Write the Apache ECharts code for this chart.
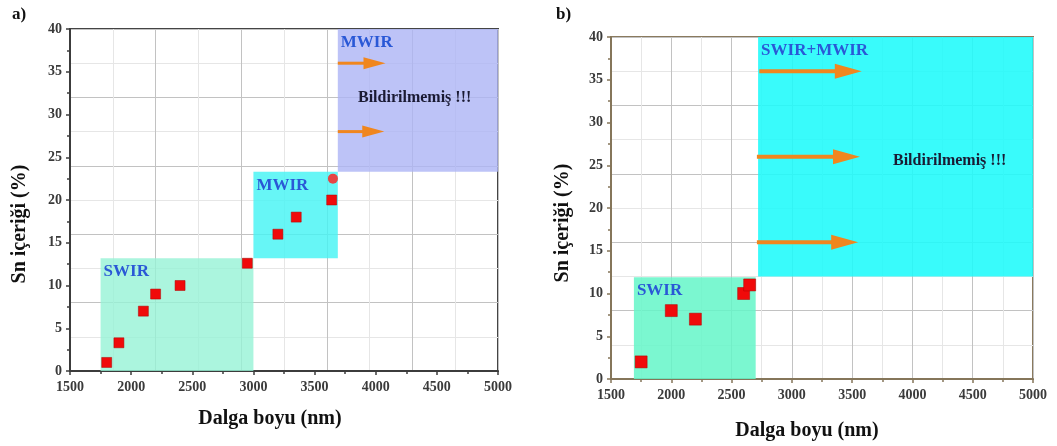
<!DOCTYPE html>
<html>
<head>
<meta charset="utf-8">
<script src="https://cdn.jsdelivr.net/npm/echarts@6/dist/echarts.min.js"></script>
<style>
  html, body { margin: 0; padding: 0; background: #ffffff; }
  #chart { width: 1057px; height: 446px; }
</style>
</head>
<body>
<div id="chart"></div>
<script>
// ---- Panel a: Sn content vs. wavelength ----
const aSquareX = [1800, 1900, 2100, 2200, 2400, 2950, 3200, 3350, 3640];
const aSquareY = [1.0, 3.3, 7.0, 9.0, 10.0, 12.6, 16.0, 18.0, 20.0];
const aCircleX = [3650];
const aCircleY = [22.5];
// regions: [xFrom, xTo, yFrom, yTo]
const aRegions = [[1750, 3000, 0, 13.2], [3000, 3690, 13.2, 23.3], [3690, 5000, 23.3, 40]];
const aRegionNames = ['SWIR', 'MWIR', 'MWIR'];
const aRegionColors = ['rgba(150,242,214,0.8)', 'rgba(70,244,244,0.82)', 'rgba(172,180,245,0.8)'];
// arrows: [xStart, xTip, y]
const aArrows = [[3690, 4080, 36], [3690, 4070, 28]];

// ---- Panel b ----
const bSquareX = [1750, 2000, 2200, 2600, 2650];
const bSquareY = [2.0, 8.0, 7.0, 10.0, 11.0];
const bRegions = [[1690, 2700, 0, 11.9], [2720, 5000, 12.0, 40]];
const bRegionNames = ['SWIR', 'SWIR+MWIR'];
const bRegionColors = ['rgba(100,246,200,0.85)', 'rgba(30,250,250,0.88)'];
const bArrows = [[2730, 3580, 36], [2710, 3565, 26], [2710, 3550, 16]];

// ---- shared axis settings ----
const xMin = 1500, xMax = 5000, xStep = 500;
const yMin = 0, yMax = 40, yStep = 5;
const noteText = 'Bildirilmemiş !!!';
const xTitle = 'Dalga boyu (nm)';
const yTitle = 'Sn içeriği (%)';

const SERIF = '"Liberation Serif", "Times New Roman", serif';
const ARROW = '#f0861e';
const REGION_TEXT = '#2a58d6';
const DARK_GRID = '#c2c2c2';
const LIGHT_GRID = '#e6e6e6';
const plain = v => String(v);

function mainX(gridIndex, color, withGrid) {
  return {
    type: 'value', gridIndex, min: xMin, max: xMax, interval: xStep,
    axisLine: { show: true, onZero: false, lineStyle: { color, width: 2 } },
    axisTick: { show: true, length: 4, lineStyle: { color, width: 1.5 } },
    minorTick: { show: true, splitNumber: 2, length: 3, lineStyle: { color, width: 1.5 } },
    axisLabel: { color: '#3a3a3a', fontFamily: SERIF, fontWeight: 'bold', fontSize: 14, margin: 9, formatter: plain },
    splitLine: { show: withGrid, lineStyle: { color: DARK_GRID, width: 1 } },
    minorSplitLine: { show: withGrid, lineStyle: { color: LIGHT_GRID, width: 1 } }
  };
}
function mainY(gridIndex, color) {
  return {
    type: 'value', gridIndex, min: yMin, max: yMax, interval: yStep,
    axisLine: { show: true, onZero: false, lineStyle: { color, width: 2 } },
    axisTick: { show: true, length: 4, lineStyle: { color, width: 1.5 } },
    minorTick: { show: true, splitNumber: 2, length: 3, lineStyle: { color, width: 1.5 } },
    axisLabel: { color: '#3a3a3a', fontFamily: SERIF, fontWeight: 'bold', fontSize: 14, margin: 8, formatter: plain },
    splitLine: { show: false }
  };
}
// background grid axes (labels hidden): major lines dark, minor lines light
function gridAxis(gridIndex, max, interval) {
  return {
    type: 'value', gridIndex, min: 0, max, interval,
    axisLine: { show: false }, axisTick: { show: false }, axisLabel: { show: false },
    minorTick: { show: false, splitNumber: 2 },
    splitLine: { show: true, lineStyle: { color: DARK_GRID, width: 1 } },
    minorSplitLine: { show: true, lineStyle: { color: LIGHT_GRID, width: 1 } }
  };
}

function regionSeries(xAxisIndex, yAxisIndex, regions, names, colors) {
  return {
    type: 'custom', xAxisIndex, yAxisIndex, z: 1, silent: true,
    data: regions,
    encode: { x: [0, 1], y: [2, 3] },
    renderItem: function (params, api) {
      const p0 = api.coord([api.value(0), api.value(3)]);
      const p1 = api.coord([api.value(1), api.value(2)]);
      return {
        type: 'group',
        children: [
          { type: 'rect', shape: { x: p0[0], y: p0[1], width: p1[0] - p0[0], height: p1[1] - p0[1] },
            style: { fill: colors[params.dataIndex] } },
          { type: 'text', x: p0[0] + 3, y: p0[1] + 5,
            style: { text: names[params.dataIndex], fill: REGION_TEXT, font: 'bold 17px ' + SERIF,
                     textVerticalAlign: 'top' } }
        ]
      };
    }
  };
}

function arrowSeries(xAxisIndex, yAxisIndex, arrows, lineW, headL, headH) {
  return {
    type: 'custom', xAxisIndex, yAxisIndex, z: 3, silent: true,
    data: arrows,
    encode: { x: [0, 1], y: 2 },
    renderItem: function (params, api) {
      const p0 = api.coord([api.value(0), api.value(2)]);
      const p1 = api.coord([api.value(1), api.value(2)]);
      const base = p1[0] - headL;
      return {
        type: 'group',
        children: [
          { type: 'line', shape: { x1: p0[0], y1: p0[1], x2: base + 1, y2: p1[1] },
            style: { stroke: ARROW, lineWidth: lineW } },
          { type: 'polygon', shape: { points: [[base, p1[1] - headH / 2], [p1[0], p1[1]], [base, p1[1] + headH / 2]] },
            style: { fill: ARROW } }
        ]
      };
    }
  };
}

function zip(xs, ys) { return xs.map((x, i) => [x, ys[i]]); }

const option = {
  backgroundColor: '#ffffff',
  animation: false,
  grid: [
    { left: 70, top: 29, width: 428, height: 342, show: true, borderColor: '#444444', borderWidth: 2, backgroundColor: 'transparent' },
    { left: 611, top: 37, width: 422, height: 342, show: true, borderColor: '#8a7a5e', borderWidth: 2, backgroundColor: 'transparent' }
  ],
  xAxis: [
    mainX(0, '#3c3c3c', false),
    gridAxis(0, 10, 2),
    mainX(1, '#85765a', true)
  ],
  yAxis: [
    mainY(0, '#3c3c3c'),
    gridAxis(0, 40, 8),
    mainY(1, '#85765a'),
    gridAxis(1, 40, 8)
  ],
  series: [
    regionSeries(0, 0, aRegions, aRegionNames, aRegionColors),
    arrowSeries(0, 0, aArrows, 3, 22, 12),
    { type: 'scatter', xAxisIndex: 0, yAxisIndex: 0, z: 4, symbol: 'circle', symbolSize: 10,
      itemStyle: { color: '#e64545', opacity: 1 }, data: zip(aCircleX, aCircleY) },
    { type: 'scatter', xAxisIndex: 0, yAxisIndex: 0, z: 5, symbol: 'rect', symbolSize: 10,
      itemStyle: { color: '#f00a0a', opacity: 1, borderColor: '#b00000', borderWidth: 0.5 }, data: zip(aSquareX, aSquareY) },

    regionSeries(2, 2, bRegions, bRegionNames, bRegionColors),
    arrowSeries(2, 2, bArrows, 4, 27, 15),
    { type: 'scatter', xAxisIndex: 2, yAxisIndex: 2, z: 5, symbol: 'rect', symbolSize: 12,
      itemStyle: { color: '#f00a0a', opacity: 1, borderColor: '#b00000', borderWidth: 0.5 }, data: zip(bSquareX, bSquareY) }
  ],
  graphic: [
    { type: 'text', left: 12, top: 6, style: { text: 'a)', font: 'bold 17px ' + SERIF, fill: '#111' } },
    { type: 'text', left: 556, top: 6, style: { text: 'b)', font: 'bold 17px ' + SERIF, fill: '#111' } },
    { type: 'text', x: 270, y: 419, style: { text: xTitle, font: 'bold 20px ' + SERIF, fill: '#111', align: 'center', verticalAlign: 'middle' } },
    { type: 'text', x: 807, y: 431, style: { text: xTitle, font: 'bold 20px ' + SERIF, fill: '#111', align: 'center', verticalAlign: 'middle' } },
    { type: 'text', x: 20, y: 224, rotation: Math.PI / 2, style: { text: yTitle, font: 'bold 20px ' + SERIF, fill: '#111', align: 'center', verticalAlign: 'middle' } },
    { type: 'text', x: 563, y: 223, rotation: Math.PI / 2, style: { text: yTitle, font: 'bold 20px ' + SERIF, fill: '#111', align: 'center', verticalAlign: 'middle' } },
    { type: 'text', x: 358, y: 98, z: 10, style: { text: noteText, font: 'bold 16px ' + SERIF, fill: '#1a1a33', verticalAlign: 'middle' } },
    { type: 'text', x: 893, y: 161, z: 10, style: { text: noteText, font: 'bold 16px ' + SERIF, fill: '#1a1a33', verticalAlign: 'middle' } }
  ]
};

const chart = echarts.init(document.getElementById('chart'), null, { renderer: 'canvas' });
chart.setOption(option);
</script>
</body>
</html>
